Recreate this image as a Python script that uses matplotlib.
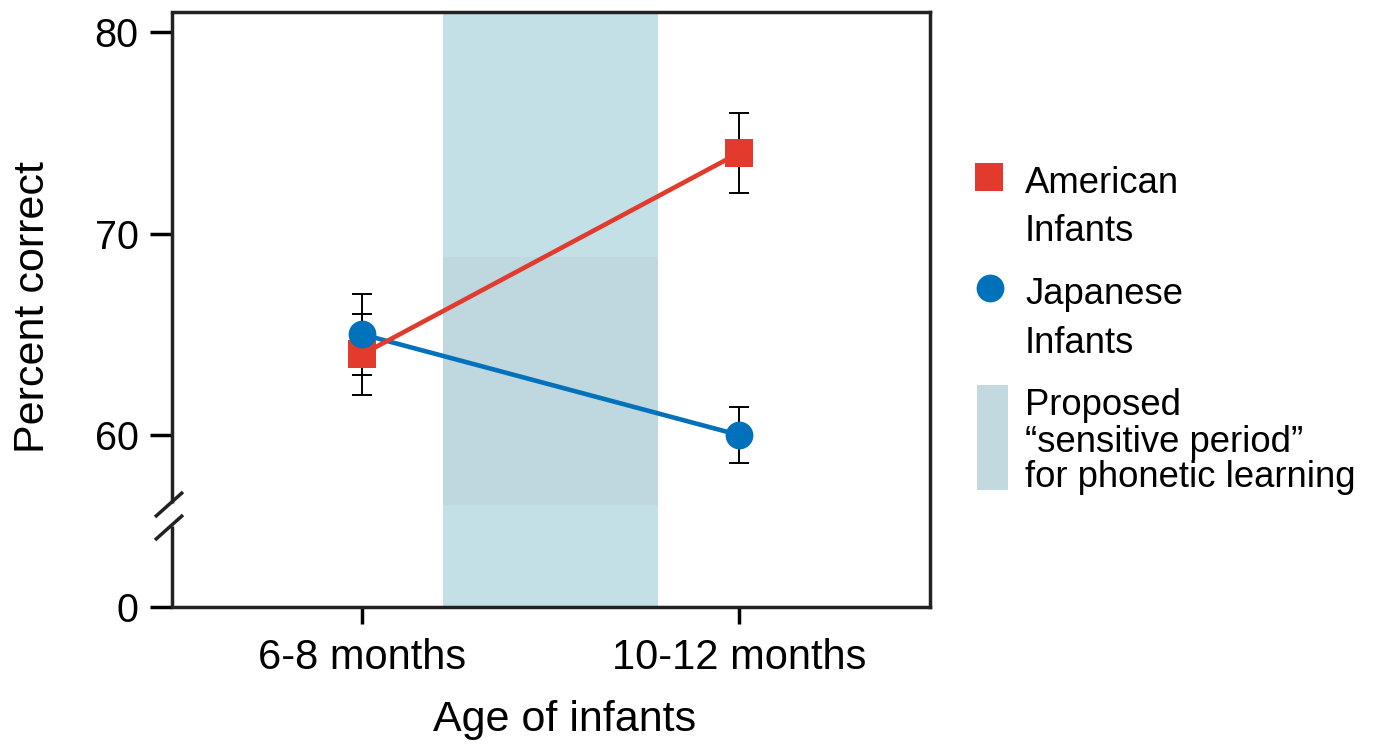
import numpy as np
import matplotlib
matplotlib.use("Agg")
import matplotlib.pyplot as plt
from matplotlib.lines import Line2D
from matplotlib.patches import Rectangle
import matplotlib.transforms as mtransforms

plt.rcParams['font.family'] = ['Liberation Sans', 'DejaVu Sans']

# ---- data ----
ages = ["6-8 months", "10-12 months"]
american = [64, 74]
american_err = [2, 2]
japanese = [65, 60]
japanese_err = [2, 1.4]
y_ticks = [0, 60, 70, 80]
sensitive_period = (0.215, 0.785)   # span between the two age groups (category units)

RED = "#e23b2e"
BLUE = "#0072bc"
BAND = "#c3e0e6"
BAND_DARK = "#bfd7de"

# broken y scale: 0..B compressed into the bottom strip
L, B = 51.46, 54.0
def fwd(v):
    v = np.asarray(v, dtype=float)
    return np.where(v >= B, v, L + v * (B - L) / B)
def inv(u):
    u = np.asarray(u, dtype=float)
    return np.where(u >= B, u, (u - L) * B / (B - L))

W, H = 1376, 753
fig = plt.figure(figsize=(W / 100, H / 100), dpi=100)
ax = fig.add_axes([172 / W, 1 - 607 / H, 758 / W, 595 / H])
ax.set_yscale('function', functions=(fwd, inv))
ax.set_ylim(0, 81)
ax.set_xlim(-0.504, 1.507)

x = np.arange(len(ages))

ax.axvspan(*sensitive_period, color=BAND, lw=0, zorder=0)
trans = mtransforms.blended_transform_factory(ax.transData, ax.transAxes)
ax.add_patch(Rectangle((sensitive_period[0], (607 - 505) / 595),
                       sensitive_period[1] - sensitive_period[0],
                       (505 - 257) / 595, transform=trans,
                       color=BAND_DARK, lw=0, zorder=0.5))

# lines
ax.plot(x, japanese, color=BLUE, lw=3.3, zorder=2)
ax.plot(x, american, color=RED, lw=3.3, zorder=2.5)
# error bars
ax.errorbar(x, american, yerr=american_err, fmt='none', ecolor='black',
            elinewidth=1.4, capsize=7, capthick=1.4, zorder=1.5)
ax.errorbar(x, japanese, yerr=japanese_err, fmt='none', ecolor='black',
            elinewidth=1.4, capsize=7, capthick=1.4, zorder=1.5)
# markers
ax.plot(x, american, ls='none', marker='s', ms=19.5, mfc=RED, mec=RED, mew=0, zorder=3)
ax.plot(x, japanese, ls='none', marker='o', ms=20, mfc=BLUE, mec=BLUE, mew=0, zorder=3.5)

# axes styling
ax.set_xticks(x)
ax.set_xticklabels(ages, fontsize=30)
ax.set_yticks(y_ticks)
ax.set_yticklabels([str(t) for t in y_ticks], fontsize=28.5)
ax.tick_params(axis='y', length=16, width=2.5, pad=8, direction='out')
ax.tick_params(axis='x', length=12, width=2.5, pad=10, direction='out')
for s in ['top', 'right', 'bottom']:
    ax.spines[s].set_linewidth(2.5)
    ax.spines[s].set_color('#222222')
ax.spines['left'].set_visible(False)

# left spine with break marks
def seg(x0, y0, x1, y1):
    ax.add_line(Line2D([x0, x1], [y0, y1], transform=ax.transAxes, color='#222222',
                       lw=2.5, clip_on=False, solid_capstyle='butt', zorder=5))
seg(0, 0, 0, (607 - 526) / 595)
seg(0, (607 - 503) / 595, 0, 1)
seg((155 - 172) / 758, (607 - 517) / 595, (183 - 172) / 758, (607 - 492) / 595)
seg((155 - 172) / 758, (607 - 540) / 595, (183 - 172) / 758, (607 - 515) / 595)

ax.set_xlabel("Age of infants", fontsize=31)
ax.xaxis.set_label_coords((565 - 172) / 758, (607 - 720) / 595)
ax.xaxis.label.set_va('center')
ax.set_ylabel("Percent correct", fontsize=31)
ax.yaxis.set_label_coords((33 - 172) / 758, (607 - 307) / 595)
ax.yaxis.label.set_va('center')

# legend (drawn in figure pixels)
def fx(px): return px / W
def fy(py): return 1 - py / H
fig.add_artist(Line2D([fx(989)], [fy(177)], marker='s', ms=19.5, mfc=RED, mew=0, ls='none'))
fig.add_artist(Line2D([fx(990)], [fy(288)], marker='o', ms=20, mfc=BLUE, mew=0, ls='none'))
fig.add_artist(Rectangle((fx(977), fy(490)), fx(1008) - fx(977), (490 - 385) / H,
                         color="#c2d9e0", lw=0, transform=fig.transFigure))
legend_lines = [("American", 193), ("Infants", 241), ("Japanese", 304), ("Infants", 353),
                ("Proposed", 415), ("\u201csensitive period\u201d", 452),
                ("for phonetic learning", 487)]
for txt, py in legend_lines:
    fig.text(fx(1025), fy(py), txt, fontsize=26.3, ha='left', va='baseline')

fig.savefig("out.png", dpi=100)
